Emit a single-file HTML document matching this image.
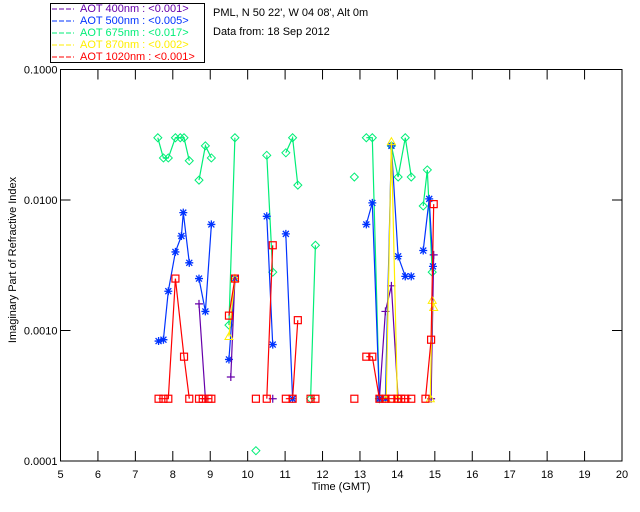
<!DOCTYPE html>
<html><head><meta charset="utf-8"><style>
body{margin:0;background:#fff;}
svg{display:block;font-family:"Liberation Sans",sans-serif;}
</style></head><body>
<svg id="chart" width="640" height="512" viewBox="0 0 640 512" xmlns="http://www.w3.org/2000/svg">
<rect width="640" height="512" fill="#fff"/>
<g>
<rect x="50.5" y="3.5" width="154" height="59" fill="#fff" stroke="#000" stroke-width="1"/>
<g font-size="11">
<line x1="52" y1="9" x2="74" y2="9" stroke="#6600aa" stroke-dasharray="5,2"/><text x="80" y="12" fill="#6600aa">AOT  400nm : &lt;0.001&gt;</text>
<line x1="52" y1="21" x2="74" y2="21" stroke="#0033ff" stroke-dasharray="5,2"/><text x="80" y="24" fill="#0033ff">AOT  500nm : &lt;0.005&gt;</text>
<line x1="52" y1="33" x2="74" y2="33" stroke="#00ee77" stroke-dasharray="5,2"/><text x="80" y="36" fill="#00ee77">AOT  675nm : &lt;0.017&gt;</text>
<line x1="52" y1="45" x2="74" y2="45" stroke="#ffee00" stroke-dasharray="5,2"/><text x="80" y="48" fill="#ffee00">AOT  870nm : &lt;0.002&gt;</text>
<line x1="52" y1="57" x2="74" y2="57" stroke="#ff0000" stroke-dasharray="5,2"/><text x="80" y="60" fill="#ff0000">AOT 1020nm : &lt;0.001&gt;</text>
</g></g>
<text x="213" y="16" font-size="11">PML, N 50 22', W 04 08', Alt 0m</text>
<text x="213" y="35" font-size="11">Data from: 18 Sep 2012</text>
<rect x="60.5" y="69.5" width="561.5" height="391.5" fill="none" stroke="#000"/>
<g id="axes"></g>
<g id="series"></g>
<text x="341" y="490" font-size="11" text-anchor="middle">Time (GMT)</text>
<text transform="translate(16,260) rotate(-90)" font-size="11" text-anchor="middle">Imaginary Part of Refractive Index</text>
</svg>
<script>
const xTicks=[5,6,7,8,9,10,11,12,13,14,15,16,17,18,19,20];
const yTicks=[0.0001,0.001,0.01,0.1];
const yTickLabels=["0.0001","0.0010","0.0100","0.1000"];
const t675=[7.6,7.75,7.88,8.07,8.2,8.3,8.44,null,8.7,8.87,9.03,null,9.5,9.66,null,10.22,null,10.51,10.67,null,11.02,11.2,11.34,null,11.68,11.81,null,12.85,null,13.17,13.33,13.52,null,13.84,14.02,14.21,14.37,null,14.69,14.8,14.93];
const v675=[0.030,0.021,0.021,0.030,0.030,0.030,0.020,null,0.0142,0.026,0.021,null,0.0011,0.030,null,0.00012,null,0.022,0.0028,null,0.023,0.030,0.013,null,0.0003,0.0045,null,0.015,null,0.030,0.030,0.0003,null,0.026,0.015,0.030,0.015,null,0.009,0.017,0.0028];
const t500=[7.62,7.75,7.88,8.07,8.23,8.28,8.44,null,8.7,8.87,9.03,null,9.5,9.66,null,10.51,10.67,null,11.02,11.2,null,13.17,13.33,13.52,null,13.68,13.84,14.02,14.21,14.37,null,14.69,14.85,14.95];
const v500=[0.00083,0.00085,0.002,0.004,0.0053,0.008,0.0033,null,0.0025,0.0014,0.0065,null,0.0006,0.0025,null,0.0075,0.00078,null,0.0055,0.0003,null,0.0065,0.0095,0.0003,null,0.0003,0.026,0.0037,0.0026,0.0026,null,0.0041,0.0102,0.0031];
const t400=[8.7,8.87,null,9.55,9.66,null,10.67,null,13.52,13.68,13.84,14.02,null,14.9,14.97];
const v400=[0.0016,0.0003,null,0.00044,0.0025,null,0.0003,null,0.0003,0.0014,0.0022,0.0003,null,0.0003,0.0038];
const t870=[9.5,9.66,null,13.7,13.84,14.0,null,14.88,14.93,14.97];
const v870=[0.0009,0.0025,null,0.0003,0.028,0.0003,null,0.0003,0.0017,0.0015];
const t1020=[7.62,7.75,7.88,8.07,8.3,8.44,null,8.7,8.8,8.95,9.03,null,9.5,9.66,null,10.22,null,10.51,10.67,null,11.02,11.2,11.34,null,11.68,11.81,null,12.85,null,13.17,13.33,13.52,13.68,13.84,14.0,14.1,14.21,14.37,null,14.75,14.9,14.97];
const v1020=[0.0003,0.0003,0.0003,0.0025,0.00063,0.0003,null,0.0003,0.0003,0.0003,0.0003,null,0.0013,0.0025,null,0.0003,null,0.0003,0.0045,null,0.0003,0.0003,0.0012,null,0.0003,0.0003,null,0.0003,null,0.00063,0.00063,0.0003,0.0003,0.0003,0.0003,0.0003,0.0003,0.0003,null,0.0003,0.00085,0.0093];
const NS="http://www.w3.org/2000/svg";
const X0=60.5,X1=622,Y0=461,Y1=69.5;
function xs(h){return X0+(h-5)/15*(X1-X0);}
function ys(v){return Y0-(Math.log10(v)+4)/3*(Y0-Y1);}
function mk(tag,at,parent){const e=document.createElementNS(NS,tag);for(const k in at)e.setAttribute(k,at[k]);parent.appendChild(e);return e;}
const ax=document.getElementById('axes');
xTicks.forEach(t=>{
  const x=xs(t);
  let l=mk('line',{x1:x,y1:Y0,x2:x,y2:Y0-10,stroke:'#000'},ax);
  
  
  let l2=mk('line',{x1:x,y1:Y1,x2:x,y2:Y1+10,stroke:'#000'},ax);
  
  
  const tx=mk('text',{x:x,y:Y0+17,'font-size':11,'text-anchor':'middle'},ax);
  tx.textContent=t;
  
  
});
yTicks.forEach((t,i)=>{
  const y=ys(t);
  let l=mk('line',{x1:X0,y1:y,x2:X0+10,y2:y,stroke:'#000'},ax);
  
  
  let l2=mk('line',{x1:X1,y1:y,x2:X1-10,y2:y,stroke:'#000'},ax);
  
  
  const tx=mk('text',{x:X0-3,y:y+4,'font-size':11,'text-anchor':'end'},ax);
  tx.textContent=yTickLabels[i];
  
  
});
const sg=document.getElementById('series');
function drawSeries(ts,vs,color,marker,name){
  const g=mk('g',{},sg);
  
  
  let d='',pen=false;
  ts.forEach((t,i)=>{if(t===null||vs[i]===null){pen=false;return;}d+=(pen?'L':'M')+xs(t).toFixed(1)+' '+ys(vs[i]).toFixed(1);pen=true;});
  const p=mk('path',{d:d,fill:'none',stroke:color,'stroke-width':1.2},g);
  
  
  ts.forEach((t,i)=>{
    if(t===null||vs[i]===null)return;
    const x=xs(t),y=ys(vs[i]);let m;
    if(marker==='diamond')m=mk('path',{d:`M${x} ${y-4}L${x+4} ${y}L${x} ${y+4}L${x-4} ${y}Z`,fill:'none',stroke:color},g);
    else if(marker==='star')m=mk('path',{d:`M${x-4} ${y}H${x+4}M${x} ${y-4}V${y+4}M${x-3} ${y-3}L${x+3} ${y+3}M${x-3} ${y+3}L${x+3} ${y-3}`,stroke:color,'stroke-width':1.3},g);
    else if(marker==='plus')m=mk('path',{d:`M${x-4} ${y}H${x+4}M${x} ${y-4}V${y+4}`,stroke:color,'stroke-width':1.2},g);
    else if(marker==='tri')m=mk('path',{d:`M${x} ${y-4}L${x+4} ${y+3}L${x-4} ${y+3}Z`,fill:'none',stroke:color},g);
    else m=mk('rect',{x:x-3.5,y:y-3.5,width:7,height:7,fill:'none',stroke:color,'stroke-width':1.2},g);
    
    
  });
}
drawSeries(t675,v675,'#00ee77','diamond','series-675nm');
drawSeries(t500,v500,'#0033ff','star','series-500nm');
drawSeries(t400,v400,'#6600aa','plus','series-400nm');
drawSeries(t870,v870,'#ffee00','tri','series-870nm');
drawSeries(t1020,v1020,'#ff0000','square','series-1020nm');
</script>
</body></html>
